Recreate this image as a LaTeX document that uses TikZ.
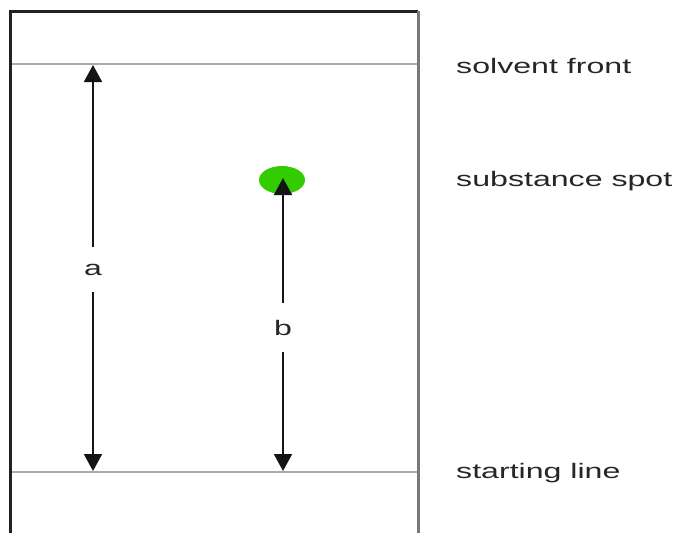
\documentclass[tikz,border=0pt]{standalone}
\usepackage{fontspec}
\setmainfont{Liberation Sans}
\newfontfamily\labfont[FakeStretch=1.53]{Liberation Sans}
\usetikzlibrary{arrows.meta,shapes.geometric}
\definecolor{spotgreen}{RGB}{51,204,0}
\definecolor{edgedark}{RGB}{34,34,34}
\definecolor{arrowdark}{RGB}{20,20,20}
\definecolor{edgegray}{RGB}{120,120,120}
\definecolor{linegray}{RGB}{170,170,170}
\tikzset{
  lab/.style={font=\labfont\fontsize{21}{24}\selectfont, text=black!85, inner sep=0pt},
  dimlab/.style={lab, fill=white, inner xsep=4pt, inner ysep=17pt},
  uparrow/.style={line width=2pt, draw=arrowdark, {Triangle[length=17pt,width=18pt]}-},
  downarrow/.style={line width=2pt, draw=arrowdark, -{Triangle[length=17pt,width=18pt]}},
}
\begin{document}
\begin{tikzpicture}[x=1pt,y=-1pt]
\useasboundingbox (0,0) rectangle (676,533);
% plate
\draw[line width=3pt, edgedark] (10,533) -- (10,11) -- (418,11);
\draw[line width=3pt, edgegray] (418,11) -- (418,533);
\draw[line width=2pt, linegray] (11.5,64) coordinate (sfL) -- (416.5,64) coordinate (sfR);
\draw[line width=2pt, linegray] (11.5,472) coordinate (slL) -- (416.5,472) coordinate (slR);
% spot
\node[ellipse, fill=spotgreen, minimum width=46pt, minimum height=28pt, inner sep=0pt] (spot) at (282,180) {};
% labels
\node[lab, anchor=west] (front) at (456,66) {solvent front};
\node[lab, anchor=west] (subst) at (456,181) {substance spot};
\node[lab, anchor=west] (start) at (456,473) {starting line};
% arrow a
\coordinate (aTop) at (93,65);
\coordinate (aBot) at (93,471);
\node[dimlab] (la) at (93,269.5) {a};
\draw[uparrow] (aTop) -- (la);
\draw[downarrow] (la) -- (aBot);
% arrow b
\coordinate (bTop) at (283,178);
\coordinate (bBot) at (283,471);
\node[dimlab] (lb) at (283,327.5) {b};
\draw[uparrow] (bTop) -- (lb);
\draw[downarrow] (lb) -- (bBot);
\end{tikzpicture}
\end{document}
